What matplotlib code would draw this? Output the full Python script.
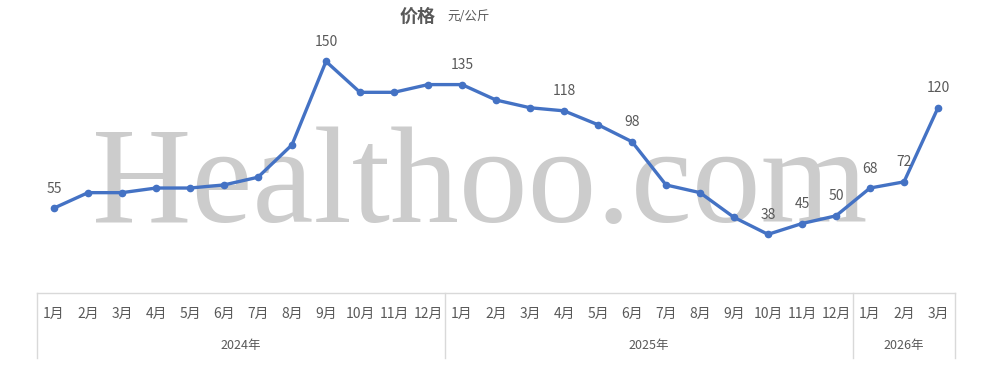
import matplotlib
matplotlib.use("Agg")
import matplotlib.pyplot as plt

plt.rcParams["font.family"] = ["Noto Sans CJK SC", "DejaVu Sans"]

# ---------------------------------------------------------------------------
# Data
# ---------------------------------------------------------------------------
years = ["2024年", "2025年", "2026年"]
months_per_year = [12, 12, 3]
prices_2024 = [55, 65, 65, 68, 68, 70, 75, 96, 150, 130, 130, 135]
prices_2025 = [135, 125, 120, 118, 109, 98, 70, 65, 49, 38, 45, 50]
prices_2026 = [68, 72, 120]
# indices (in the whole series) that carry a value label
labelled = [0, 8, 12, 15, 17, 21, 22, 23, 24, 25, 26]

prices = prices_2024 + prices_2025 + prices_2026
month_labels = [f"{m + 1}月" for n in months_per_year for m in range(n)]

LINE = "#4472C4"
TEXT = "#595959"
GRID = "#D9D9D9"

fig = plt.figure(figsize=(9.9, 3.84), dpi=100)
ax = fig.add_axes([37 / 990, (384 - 293) / 384, 918 / 990, 247 / 384])
ax.patch.set_alpha(0)

xs = list(range(len(prices)))
ax.plot(xs, prices, color=LINE, linewidth=2.4, marker="o", markersize=4.5, zorder=3)

for i in labelled:
    ax.annotate(str(prices[i]), (xs[i], prices[i]), xytext=(0, 14), textcoords="offset points",
                ha="center", va="center", fontsize=10, color=TEXT, zorder=4)

ax.set_xlim(-0.5, len(prices) - 0.5)
ax.set_ylim(0, 160)
for s in ax.spines.values():
    s.set_visible(False)
ax.set_xticks([])
ax.set_yticks([])

# category table under the plot
tr = ax.get_xaxis_transform()
ax.plot([-0.5, len(prices) - 0.5], [0, 0], transform=tr, color=GRID, lw=1, clip_on=False)
bounds = [-0.5]
for n in months_per_year:
    bounds.append(bounds[-1] + n)
for b in bounds:
    ax.plot([b, b], [0, -0.262], transform=tr, color=GRID, lw=1, clip_on=False)
for x, lab in zip(xs, month_labels):
    ax.text(x, -0.083, lab, transform=tr, ha="center", va="center", fontsize=10, color=TEXT)
for i, y in enumerate(years):
    mid = (bounds[i] + bounds[i + 1]) / 2
    ax.text(mid, -0.213, y, transform=tr, ha="center", va="center", fontsize=9, color=TEXT)

# title
fig.text(436 / 990, 1 - 16 / 384, "价格", ha="right", va="center", fontsize=13,
         fontweight="bold", color=TEXT)
fig.text(447 / 990, 1 - 17 / 384, "元/公斤", ha="left", va="center", fontsize=9, color=TEXT)

# watermark, drawn under the line and labels
ax.text(480 / 990, 1 - 222 / 384, "Healthoo.com", transform=fig.transFigure, ha="center",
        va="baseline", fontsize=99, family="Liberation Serif", color="#CCCCCC", zorder=1)

fig.savefig("out.png", dpi=100)
